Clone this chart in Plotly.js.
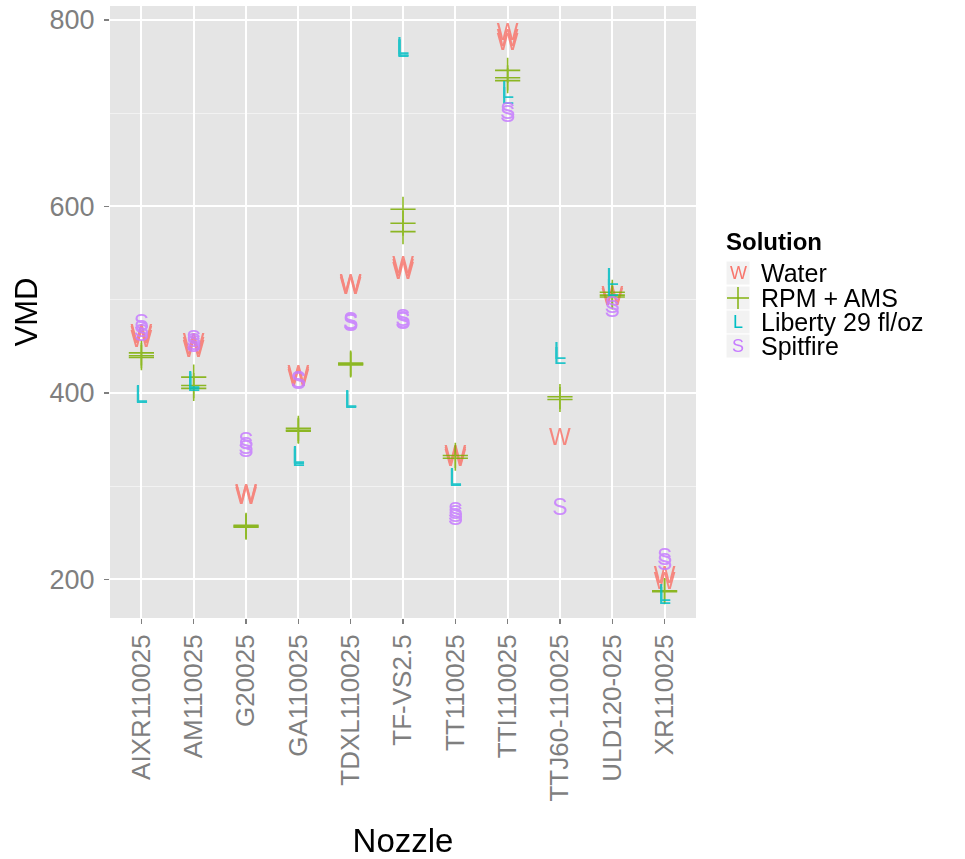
<!DOCTYPE html>
<html>
<head>
<meta charset="utf-8">
<script src="https://cdn.plot.ly/plotly-3.0.1.min.js"></script>
<style>html,body{margin:0;padding:0;background:#fff;}#chart{width:965px;height:859px;}</style>
</head>
<body>
<div id="chart"></div>
<script>
// ---- data ----
const nozzles = ["AIXR110025","AM110025","G20025","GA110025","TDXL110025","TF-VS2.5","TT110025","TTI110025","TTJ60-110025","ULD120-025","XR110025"];
const solutions = ["Water","RPM + AMS","Liberty 29 fl/oz","Spitfire"];
const glyphs = ["W","+","L","S"];
const colors = ["#F8766D","#7CAE00","#00BFC4","#C77CFF"];

// replicate VMD values per nozzle (same order as nozzles)
const waterVMD   = [[455,462,460],[452,445,448],[290,287,289],[418,414,416],[516,514,512],[532,528,535],[332,328,330],[785,778,774],[350],[503,500],[202,196]];
const rpmVMD     = [[443,438,440],[417,408,405],[258,256,257],[362,359,360],[431,430,432],[597,582,573],[333,330],[746,738,735],[396,393],[508,505,503],[188,187]];
const libertyVMD = [[396,395],[412,408,410],[],[330,328,331],[391,390],[768,766,770],[308,306],[722,716],[443,437],[522,510],[183,180]];
const spitfireVMD= [[473,466,462],[456,452,450],[346,341,338],[411,410,412],[474,473,475],[475,478,476],[271,268,265],[700,697],[275],[488,492],[222,216]];

const seriesVals = [waterVMD, rpmVMD, libertyVMD, spitfireVMD];

// ---- build traces ----
function flatten(vals){
  const xs=[], ys=[];
  vals.forEach((arr,i)=>arr.forEach(v=>{xs.push(nozzles[i]); ys.push(v);}));
  return {xs, ys};
}
const FONT = "Liberation Sans, Arial, sans-serif";
const traces = seriesVals.map((vals,k)=>{
  const f = flatten(vals);
  if (glyphs[k] === "+") {
    return {type:"scatter", mode:"markers", x:f.xs, y:f.ys, name:solutions[k],
      marker:{symbol:"cross-thin-open", size:18, line:{color:colors[k], width:1.6}, color:colors[k]},
      opacity:0.85, showlegend:false, hoverinfo:"skip"};
  }
  return {type:"scatter", mode:"text", x:f.xs, y:f.ys, name:solutions[k],
    text:f.ys.map(()=>glyphs[k]), textposition:"middle center",
    textfont:{family:FONT, size:23, color:colors[k]},
    opacity:0.85, showlegend:false, hoverinfo:"skip"};
});

// ---- layout ----
const W=965, H=859, L=110, R=269, T=6, B=241;
const pw = W-L-R, ph = H-T-B;
const px = x => (x-L)/pw;
const py = y => (H-B-y)/ph;

const annotations = [];
const shapes = [];
annotations.push({xref:"paper", yref:"paper", x:px(724), y:py(242), xanchor:"left", yanchor:"middle",
  text:"<b>Solution</b>", showarrow:false, font:{family:FONT, size:24, color:"#000"}});
const rowY = [273, 298, 322, 346];
solutions.forEach((s,k)=>{
  const cy = rowY[k];
  shapes.push({type:"rect", xref:"paper", yref:"paper", x0:px(726), x1:px(750), y0:py(cy+12), y1:py(cy-12),
    fillcolor:"#F2F2F2", line:{color:"#FFFFFF", width:1}, layer:"below"});
  if (glyphs[k] === "+") {
    shapes.push({type:"line", xref:"paper", yref:"paper", x0:px(727), x1:px(749), y0:py(cy), y1:py(cy), line:{color:colors[k], width:1.4}});
    shapes.push({type:"line", xref:"paper", yref:"paper", x0:px(738), x1:px(738), y0:py(cy-11), y1:py(cy+11), line:{color:colors[k], width:1.4}});
  } else {
    annotations.push({xref:"paper", yref:"paper", x:px(738), y:py(cy), xanchor:"center", yanchor:"middle",
      text:glyphs[k], showarrow:false, font:{family:FONT, size:18, color:colors[k]}});
  }
  annotations.push({xref:"paper", yref:"paper", x:px(759), y:py(cy), xanchor:"left", yanchor:"middle",
    text:s, showarrow:false, font:{family:FONT, size:25, color:"#000"}});
});

const layout = {
  width:W, height:H,
  margin:{l:L, r:R, t:T, b:B, pad:0},
  paper_bgcolor:"#FFFFFF",
  plot_bgcolor:"#E5E5E5",
  showlegend:false,
  font:{family:FONT},
  xaxis:{
    type:"category", categoryorder:"array", categoryarray:nozzles,
    range:[-0.6, nozzles.length-0.4],
    showgrid:true, gridcolor:"#FFFFFF", gridwidth:2,
    zeroline:false, showline:false,
    ticks:"outside", ticklen:5, tickwidth:1.5, tickcolor:"#7F7F7F",
    tickangle:-90, tickfont:{size:26, color:"#7F7F7F"},
    title:{text:"Nozzle", font:{size:33, color:"#000"}, standoff:38}
  },
  yaxis:{
    range:[158.7, 815], tickvals:[200,400,600,800],
    showgrid:true, gridcolor:"#FFFFFF", gridwidth:2,
    minor:{tickvals:[300,500,700], showgrid:true, gridcolor:"#F2F2F2", gridwidth:1, ticks:""},
    zeroline:false, showline:false,
    ticks:"outside", ticklen:5, tickwidth:1.5, tickcolor:"#7F7F7F",
    ticklabelstandoff:4,
    tickfont:{size:27, color:"#7F7F7F"},
    title:{text:"VMD", font:{size:31, color:"#000"}, standoff:2}
  },
  annotations:annotations,
  shapes:shapes
};

Plotly.newPlot("chart", traces, layout, {displayModeBar:false, staticPlot:true});
</script>
</body>
</html>
